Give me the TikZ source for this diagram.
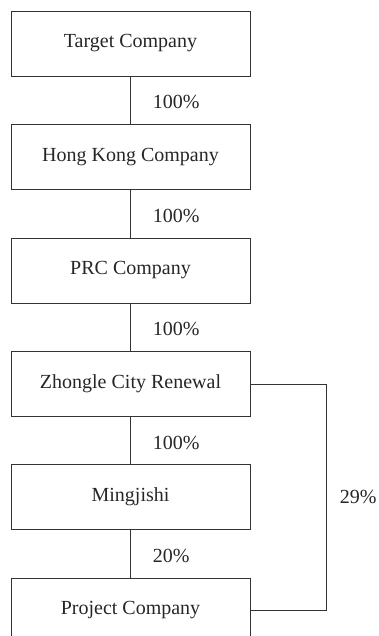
\documentclass[tikz,border=0pt]{standalone}
\usepackage{fontspec}
\setmainfont{Liberation Serif}
\usetikzlibrary{calc}

\begin{document}
\begin{tikzpicture}[x=1pt, y=-1pt, font=\fontsize{20}{24}\selectfont,
		box/.style={draw=black!80, line width=0.8pt, minimum width=239pt, minimum height=65pt, text=black!85},
		pct/.style={inner sep=0pt, text=black!85},
		link/.style={draw=black!80, line width=0.8pt}]
			\path[use as bounding box, clip] (0,0) rectangle (379,636);
			\node[box] (tgt)  at (130.5,43.5)  {Target Company};
			\node[box] (hk)   at (130.5,157)   {Hong Kong Company};
			\node[box] (prc)  at (130.5,270.5) {PRC Company};
			\node[box] (zcr)  at (130.5,384)   {Zhongle City Renewal};
			\node[box] (mjs)  at (130.5,497)   {Mingjishi};
			\node[box] (proj) at (130.5,610.5) {Project Company};
			\draw[link] (tgt) -- node[pct, anchor=west, xshift=22pt, yshift=-2pt] {100\%} (hk);
			\draw[link] (hk) -- node[pct, anchor=west, xshift=22pt, yshift=-2pt] {100\%} (prc);
			\draw[link] (prc) -- node[pct, anchor=west, xshift=22pt, yshift=-2pt] {100\%} (zcr);
			\draw[link] (zcr) -- node[pct, anchor=west, xshift=22pt, yshift=-2pt] {100\%} (mjs);
			\draw[link] (mjs) -- node[pct, anchor=west, xshift=22pt, yshift=-2pt] {20\%} (proj);
			\draw[link] (zcr.east) -- ++(76,0) coordinate (bend) |- node[pct, pos=0.25, anchor=west, xshift=13pt] {29\%} (proj.east);
		\end{tikzpicture}
\end{document}
